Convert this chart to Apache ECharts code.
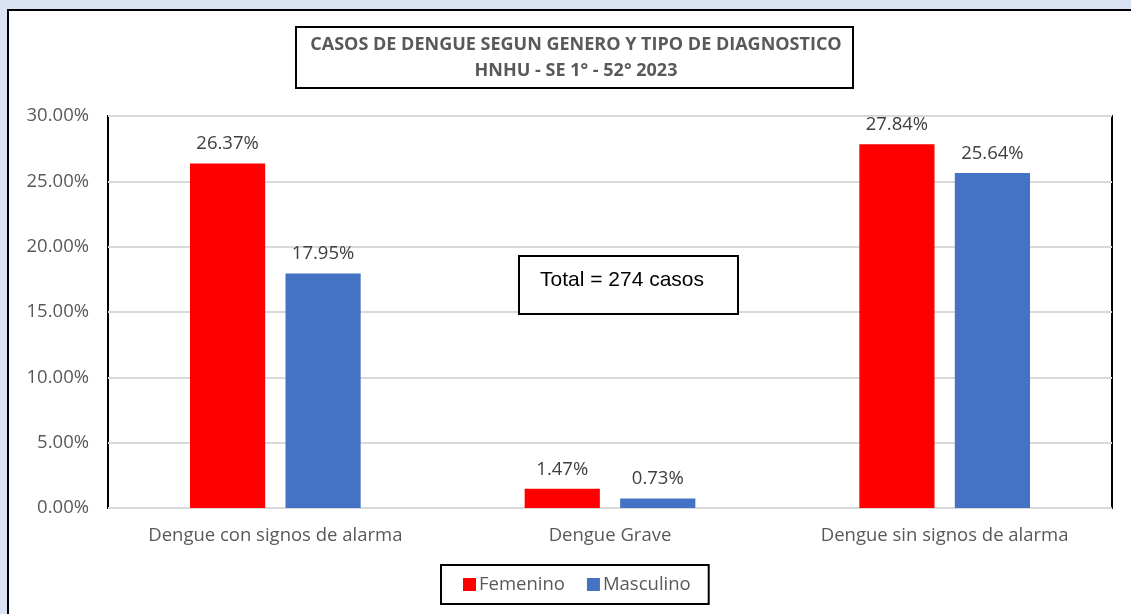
<!DOCTYPE html>
<html>
<head>
<meta charset="utf-8">
<script src="https://cdn.jsdelivr.net/npm/echarts@6/dist/echarts.min.js"></script>
<style>
  html, body { margin: 0; padding: 0; background: #dae3f3; }
  #chart { width: 1131px; height: 614px; }
</style>
</head>
<body>
<div id="chart"></div>
<script>
// chart data
const categories = ['Dengue con signos de alarma', 'Dengue Grave', 'Dengue sin signos de alarma']
const femenino = [26.37, 1.47, 27.84]
const masculino = [17.95, 0.73, 25.64]
const seriesNames = ['Femenino', 'Masculino']
const titleLines = ['CASOS DE DENGUE SEGUN GENERO Y TIPO DE DIAGNOSTICO', 'HNHU - SE 1° - 52° 2023']
const noteText = 'Total = 274 casos'

const font = '"Open Sans", "Noto Sans", sans-serif'
const pct = (v) => v.toFixed(2) + '%'

const chart = echarts.init(document.getElementById('chart'), null, { renderer: 'canvas' })

const barLabel = {
  show: true,
  position: 'top',
  distance: 10,
  color: '#404040',
  fontFamily: font,
  fontSize: 18.5,
  formatter: (p) => pct(p.value),
}

const option = {
  animation: false,
  backgroundColor: '#dae3f3',
  color: ['#ff0000', '#4472c4'],
  grid: {
    left: 108, right: 19, top: 116, bottom: 106,
    show: true, backgroundColor: '#ffffff', borderColor: '#000000', borderWidth: 2,
  },
  legend: {
    left: 441, top: 565,
    padding: [10, 18, 10, 22],
    borderColor: '#000000', borderWidth: 2,
    backgroundColor: '#ffffff',
    itemWidth: 13, itemHeight: 13, itemGap: 22,
    icon: 'rect',
    textStyle: { color: '#595959', fontFamily: font, fontSize: 18.5, padding: [0, 0, 0, -2] },
    data: seriesNames,
  },
  xAxis: {
    type: 'category',
    data: categories,
    axisLine: { show: false },
    axisTick: { show: false },
    axisLabel: { color: '#595959', fontFamily: font, fontSize: 18.5, margin: 18 },
  },
  yAxis: {
    type: 'value',
    min: 0, max: 30, interval: 5,
    axisLine: { show: false },
    axisTick: { show: false },
    axisLabel: { color: '#595959', fontFamily: font, fontSize: 18.5, margin: 19, formatter: (v) => pct(v) },
    splitLine: { lineStyle: { color: '#d9d9d9', width: 2 } },
  },
  series: [
    { name: seriesNames[0], type: 'bar', data: femenino, barGap: '27%', barCategoryGap: '49%', label: barLabel, z: 3 },
    { name: seriesNames[1], type: 'bar', data: masculino, label: barLabel, z: 3 },
  ],
  graphic: [
    // outer chart frame (runs off right/bottom edge like the source)
    { type: 'rect', z: -10, shape: { x: 8, y: 10, width: 1140, height: 620 },
      style: { fill: '#ffffff', stroke: '#000000', lineWidth: 2 } },
    // title box
    { type: 'rect', z: 10, shape: { x: 296, y: 27, width: 557, height: 61 },
      style: { fill: '#ffffff', stroke: '#000000', lineWidth: 2 } },
    { type: 'text', z: 11, x: 576, y: 45,
      style: { text: titleLines[0], fill: '#595959', font: 'bold 18px ' + font, align: 'center', verticalAlign: 'middle' } },
    { type: 'text', z: 11, x: 576, y: 71,
      style: { text: titleLines[1], fill: '#595959', font: 'bold 18px ' + font, align: 'center', verticalAlign: 'middle' } },
    // total note
    { type: 'rect', z: 10, shape: { x: 519, y: 256, width: 219, height: 58 },
      style: { fill: '#ffffff', stroke: '#000000', lineWidth: 2 } },
    { type: 'text', z: 11, x: 540, y: 280,
      style: { text: noteText, fill: '#000000', font: '21px "Liberation Sans", Arial, sans-serif', align: 'left', verticalAlign: 'middle' } },
  ],
}

chart.setOption(option)
window.addEventListener('resize', () => chart.resize())
</script>
</body>
</html>
